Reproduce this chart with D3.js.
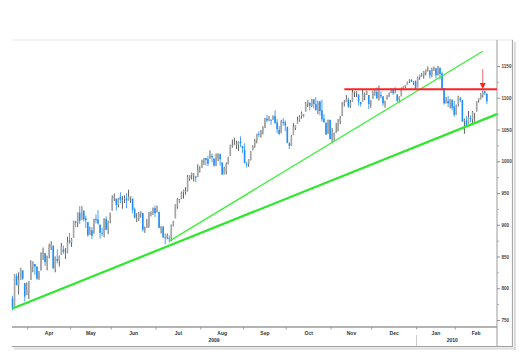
<!DOCTYPE html>
<html>
<head>
<meta charset="utf-8">
<script src="https://cdn.jsdelivr.net/npm/d3@7"></script>
<style>
  body { margin: 0; background: #fff; }
  svg { display: block; }
  text { font-family: "Liberation Sans", Arial, sans-serif; }
</style>
</head>
<body>
<div id="chart"></div>
<script>
// daily bars, Mar 20 2009 .. Feb 23 2010
const dates = [
  "2009-03-20","2009-03-23","2009-03-24","2009-03-25","2009-03-26","2009-03-27","2009-03-30","2009-03-31",
  "2009-04-01","2009-04-02","2009-04-03","2009-04-06","2009-04-07","2009-04-08","2009-04-09","2009-04-13","2009-04-14","2009-04-15","2009-04-16","2009-04-17","2009-04-20","2009-04-21","2009-04-22","2009-04-23","2009-04-24","2009-04-27","2009-04-28","2009-04-29","2009-04-30",
  "2009-05-01","2009-05-04","2009-05-05","2009-05-06","2009-05-07","2009-05-08","2009-05-11","2009-05-12","2009-05-13","2009-05-14","2009-05-15","2009-05-18","2009-05-19","2009-05-20","2009-05-21","2009-05-22","2009-05-26","2009-05-27","2009-05-28","2009-05-29",
  "2009-06-01","2009-06-02","2009-06-03","2009-06-04","2009-06-05","2009-06-08","2009-06-09","2009-06-10","2009-06-11","2009-06-12","2009-06-15","2009-06-16","2009-06-17","2009-06-18","2009-06-19","2009-06-22","2009-06-23","2009-06-24","2009-06-25","2009-06-26","2009-06-29","2009-06-30",
  "2009-07-01","2009-07-02","2009-07-06","2009-07-07","2009-07-08","2009-07-09","2009-07-10","2009-07-13","2009-07-14","2009-07-15","2009-07-16","2009-07-17","2009-07-20","2009-07-21","2009-07-22","2009-07-23","2009-07-24","2009-07-27","2009-07-28","2009-07-29","2009-07-30","2009-07-31",
  "2009-08-03","2009-08-04","2009-08-05","2009-08-06","2009-08-07","2009-08-10","2009-08-11","2009-08-12","2009-08-13","2009-08-14","2009-08-17","2009-08-18","2009-08-19","2009-08-20","2009-08-21","2009-08-24","2009-08-25","2009-08-26","2009-08-27","2009-08-28","2009-08-31",
  "2009-09-01","2009-09-02","2009-09-03","2009-09-04","2009-09-08","2009-09-09","2009-09-10","2009-09-11","2009-09-14","2009-09-15","2009-09-16","2009-09-17","2009-09-18","2009-09-21","2009-09-22","2009-09-23","2009-09-24","2009-09-25","2009-09-28","2009-09-29","2009-09-30",
  "2009-10-01","2009-10-02","2009-10-05","2009-10-06","2009-10-07","2009-10-08","2009-10-09","2009-10-12","2009-10-13","2009-10-14","2009-10-15","2009-10-16","2009-10-19","2009-10-20","2009-10-21","2009-10-22","2009-10-23","2009-10-26","2009-10-27","2009-10-28","2009-10-29","2009-10-30",
  "2009-11-02","2009-11-03","2009-11-04","2009-11-05","2009-11-06","2009-11-09","2009-11-10","2009-11-11","2009-11-12","2009-11-13","2009-11-16","2009-11-17","2009-11-18","2009-11-19","2009-11-20","2009-11-23","2009-11-24","2009-11-25","2009-11-27","2009-11-30",
  "2009-12-01","2009-12-02","2009-12-03","2009-12-04","2009-12-07","2009-12-08","2009-12-09","2009-12-10","2009-12-11","2009-12-14","2009-12-15","2009-12-16","2009-12-17","2009-12-18","2009-12-21","2009-12-22","2009-12-23","2009-12-24","2009-12-28","2009-12-29","2009-12-30","2009-12-31",
  "2010-01-04","2010-01-05","2010-01-06","2010-01-07","2010-01-08","2010-01-11","2010-01-12","2010-01-13","2010-01-14","2010-01-15","2010-01-19","2010-01-20","2010-01-21","2010-01-22","2010-01-25","2010-01-26","2010-01-27","2010-01-28","2010-01-29",
  "2010-02-01","2010-02-02","2010-02-03","2010-02-04","2010-02-05","2010-02-08","2010-02-09","2010-02-10","2010-02-11","2010-02-12","2010-02-16","2010-02-17","2010-02-18","2010-02-19","2010-02-22","2010-02-23"
];

const open = [
  785,772,820,806,814,829,809,790,
  794,814,835,839,835,816,829,855,856,840,854,865,868,831,847,844,853,862,854,856,876,
  873,880,906,904,920,909,923,911,905,885,892,887,910,909,901,888,887,910,893,908,
  923,943,942,932,945,938,941,942,939,943,942,925,911,910,920,919,894,897,899,918,920,927,
  921,921,894,898,881,882,880,880,900,911,930,941,942,952,953,954,973,979,979,977,976,987,
  990,1002,1006,1004,1005,1009,1005,994,1006,1012,999,981,986,996,1010,1026,1027,1027,1027,1032,1025,
  1019,996,997,1003,1019,1025,1033,1044,1040,1049,1053,1068,1067,1066,1066,1072,1062,1050,1045,1063,1062,
  1055,1029,1026,1042,1053,1060,1065,1072,1074,1079,1091,1093,1088,1098,1091,1080,1095,1081,1068,1061,1044,1066,
  1036,1040,1047,1048,1064,1072,1092,1094,1098,1088,1094,1109,1109,1106,1094,1095,1106,1106,1105,1092,
  1099,1109,1110,1101,1105,1103,1092,1098,1104,1108,1114,1109,1106,1097,1103,1115,1118,1121,1127,1129,1125,1127,
  1117,1133,1136,1136,1140,1146,1144,1137,1146,1147,1136,1148,1139,1116,1092,1096,1092,1097,1087,
  1074,1091,1100,1097,1064,1065,1060,1069,1067,1075,1079,1097,1099,1105,1111,1107
];

const high = [
  789,823,824,826,833,829,809,810,
  812,845,843,839,835,828,857,865,856,852,871,875,868,851,862,852,872,868,864,882,888,
  880,907,907,920,930,930,923,915,905,898,897,910,917,924,901,896,911,914,907,920,
  947,950,942,943,952,946,947,950,956,946,942,928,919,921,922,919,898,910,921,922,928,931,
  931,921,898,898,887,887,884,901,907,933,943,941,953,956,960,979,979,983,982,977,996,993,
  1003,1006,1006,1009,1018,1013,1005,1013,1013,1013,999,992,999,1008,1027,1035,1038,1033,1032,1040,1025,
  1029,1000,1004,1017,1026,1036,1044,1048,1050,1056,1069,1074,1072,1067,1073,1081,1067,1056,1066,1069,1065,
  1055,1031,1042,1061,1058,1071,1073,1079,1075,1094,1097,1093,1099,1099,1102,1096,1096,1098,1075,1063,1066,1066,
  1053,1046,1061,1067,1072,1094,1097,1105,1101,1097,1114,1111,1111,1106,1094,1113,1109,1112,1105,1097,
  1112,1115,1117,1120,1111,1103,1096,1105,1109,1115,1115,1117,1106,1103,1117,1119,1121,1126,1130,1130,1127,1128,
  1134,1137,1140,1143,1145,1150,1144,1148,1150,1148,1151,1148,1142,1116,1102,1104,1099,1099,1096,
  1090,1104,1102,1097,1068,1072,1080,1073,1080,1077,1095,1100,1108,1112,1112,1108
];

const low = [
  766,772,805,791,814,814,780,790,
  784,814,826,822,814,814,829,845,836,829,848,861,832,826,840,835,853,855,847,856,871,
  866,880,897,897,902,909,906,896,882,885,878,887,903,901,879,883,881,892,886,903,
  923,938,923,928,935,926,935,927,939,935,919,911,905,907,912,890,888,896,896,914,916,913,
  920,896,887,880,870,878,873,875,898,911,926,935,941,942,948,953,970,972,969,968,976,983,
  990,995,994,993,1005,999,992,993,1001,994,979,980,980,996,1009,1022,1026,1020,1017,1023,1014,
  997,991,992,1002,1018,1022,1029,1039,1038,1043,1053,1062,1064,1058,1066,1060,1045,1042,1045,1057,1048,
  1029,1020,1025,1042,1050,1060,1063,1068,1070,1079,1086,1081,1086,1084,1081,1075,1073,1063,1061,1042,1044,1035,
  1029,1033,1045,1048,1059,1072,1087,1094,1085,1085,1094,1102,1102,1089,1087,1095,1097,1105,1083,1085,
  1099,1104,1099,1096,1100,1088,1085,1098,1102,1108,1105,1108,1094,1093,1103,1113,1116,1121,1124,1126,1121,1115,
  1117,1129,1134,1131,1136,1142,1131,1133,1143,1131,1136,1130,1114,1090,1092,1086,1084,1081,1071,
  1074,1087,1094,1063,1044,1056,1060,1062,1061,1063,1079,1093,1098,1101,1105,1091
];

const close = [
  769,823,806,814,833,816,788,798,
  811,834,843,835,816,825,857,859,842,852,865,870,832,850,844,852,866,858,855,874,873,
  878,907,904,920,907,929,909,908,884,893,883,910,908,903,888,887,910,893,907,919,
  943,945,932,942,940,939,942,939,945,946,924,912,911,918,921,893,895,901,920,919,927,919,
  923,896,899,881,880,883,879,901,906,933,941,940,951,955,954,976,979,982,980,975,987,987,
  1003,1006,1003,997,1010,1007,994,1006,1013,1004,980,990,996,1007,1026,1026,1028,1028,1031,1029,1021,
  998,995,1003,1016,1025,1033,1044,1043,1049,1053,1069,1065,1068,1065,1072,1061,1051,1044,1063,1061,1057,
  1030,1025,1040,1055,1058,1065,1071,1076,1073,1092,1097,1088,1098,1091,1081,1093,1080,1067,1063,1043,1066,1036,
  1043,1045,1047,1067,1069,1093,1093,1099,1087,1093,1109,1110,1110,1095,1091,1106,1106,1111,1091,1096,
  1109,1109,1100,1106,1103,1092,1096,1102,1106,1114,1108,1109,1096,1102,1114,1118,1121,1126,1128,1126,1126,1115,
  1133,1137,1137,1142,1145,1147,1136,1146,1148,1136,1150,1138,1116,1092,1097,1092,1098,1085,1074,
  1089,1103,1097,1063,1066,1057,1071,1068,1078,1076,1095,1100,1107,1109,1108,1095
];

const yTicks = [750, 800, 850, 900, 950, 1000, 1050, 1100, 1150];
const yMinorTicks = [775, 825, 875, 925, 975, 1025, 1075, 1125];
const monthLabels = ["Apr", "May", "Jun", "Jul", "Aug", "Sep", "Oct", "Nov", "Dec", "Jan", "Feb"];
const yearLabels = ["2009", "2010"];

// drawn lines, as [bar index, price]
const lowerTrend = [[0, 769], [238, 1075]];
const upperTrend = [[77, 875], [231, 1174]];
const resistance = [[163, 1114], [238, 1114]];
const arrowAt = [231, 1113];

const W = 520, H = 353;
const plotLeft = 12, plotRight = 497, plotTop = 40, plotBottom = 327;

const svg = d3.select("#chart").append("svg")
    .attr("width", W)
    .attr("height", H);

const x = d3.scaleLinear().domain([-0.5, 238]).range([11.5, plotRight]);
const y = d3.scaleLinear().domain([739.8, 1191.7]).range([plotBottom, plotTop]);

const bars = dates.map((d, i) => ({
    i: i, date: d3.timeParse("%Y-%m-%d")(d),
    o: open[i], h: high[i], l: low[i], c: close[i]
}));

// frame
svg.append("line").attr("x1", plotLeft).attr("x2", 513).attr("y1", plotTop).attr("y2", plotTop)
    .attr("stroke", "#e6e6e6").attr("stroke-width", 1);
svg.append("line").attr("x1", 515).attr("x2", 515).attr("y1", plotTop + 2).attr("y2", 350)
    .attr("stroke", "#dcdcdc").attr("stroke-width", 2);
svg.append("line").attr("x1", 14).attr("x2", 515).attr("y1", 348.5).attr("y2", 348.5)
    .attr("stroke", "#dcdcdc").attr("stroke-width", 2);
svg.append("line").attr("x1", 512.5).attr("x2", 512.5).attr("y1", plotTop).attr("y2", 347)
    .attr("stroke", "#a8a8a8").attr("stroke-width", 1.2);
svg.append("line").attr("x1", plotLeft).attr("x2", 513).attr("y1", 346.5).attr("y2", 346.5)
    .attr("stroke", "#a0a0a0").attr("stroke-width", 1.2);
svg.append("line").attr("x1", plotRight).attr("x2", plotRight).attr("y1", plotTop).attr("y2", 346)
    .attr("stroke", "#9a9a9a").attr("stroke-width", 1);
svg.append("line").attr("x1", plotLeft).attr("x2", plotRight).attr("y1", plotBottom).attr("y2", plotBottom)
    .attr("stroke", "#9a9a9a").attr("stroke-width", 1.3);

// right price axis
const yAxis = svg.append("g").attr("transform", `translate(${plotRight},0)`);
yAxis.selectAll(".major").data(yTicks).enter().append("line")
    .attr("x1", 0).attr("x2", 3).attr("y1", d => y(d)).attr("y2", d => y(d))
    .attr("stroke", "#777").attr("stroke-width", 0.8);
yAxis.selectAll(".minor").data(yMinorTicks).enter().append("line")
    .attr("x1", 0).attr("x2", 2).attr("y1", d => y(d)).attr("y2", d => y(d))
    .attr("stroke", "#999").attr("stroke-width", 0.8);
yAxis.selectAll("text").data(yTicks).enter().append("text")
    .attr("x", 4.5).attr("y", d => y(d)).attr("dy", "0.35em")
    .style("font-size", "4.6px").style("font-weight", "bold").style("fill", "#444")
    .text(d => d);

// month ticks and labels
const monthStarts = bars.filter((b, i) => i > 0 && b.date.getMonth() !== bars[i - 1].date.getMonth()).map(b => b.i);
const bounds = monthStarts.map(i => x(i - 0.5));
svg.selectAll(".mtick").data(bounds).enter().append("line")
    .attr("x1", d => d).attr("x2", d => d).attr("y1", plotBottom).attr("y2", plotBottom + 2.5)
    .attr("stroke", "#888").attr("stroke-width", 0.8);
svg.selectAll(".mlabel").data(monthLabels).enter().append("text")
    .attr("x", (d, k) => (bounds[k] + (k + 1 < bounds.length ? bounds[k + 1] : plotRight)) / 2)
    .attr("y", 334.5)
    .attr("text-anchor", "middle")
    .style("font-size", "5px").style("font-weight", "bold").style("fill", "#333")
    .text(d => d);

// year row
const yearSplit = bars.find(b => b.date.getFullYear() === 2010).i;
svg.append("line").attr("x1", x(yearSplit - 0.5)).attr("x2", x(yearSplit - 0.5))
    .attr("y1", 335).attr("y2", 346).attr("stroke", "#bbb").attr("stroke-width", 0.8);
const yearSpans = [[-0.5, yearSplit - 0.5], [yearSplit - 0.5, bars.length - 0.5]];
svg.selectAll(".ylabel").data(yearLabels).enter().append("text")
    .attr("x", (d, k) => (x(yearSpans[k][0]) + x(yearSpans[k][1])) / 2)
    .attr("y", 341.5)
    .attr("text-anchor", "middle")
    .style("font-size", "5px").style("font-weight", "bold").style("fill", "#333")
    .text(d => d);

// candles
const candles = svg.append("g");
candles.selectAll(".wick").data(bars).enter().append("line")
    .attr("x1", d => x(d.i)).attr("x2", d => x(d.i))
    .attr("y1", d => y(d.h)).attr("y2", d => y(d.l))
    .attr("stroke", d => d.c < d.o ? "#1e8cf5" : "#3a3a3a")
    .attr("stroke-width", 0.8);
candles.selectAll(".body").data(bars).enter().append("rect")
    .attr("x", d => x(d.i) - 0.8)
    .attr("width", 1.6)
    .attr("y", d => y(Math.max(d.o, d.c)))
    .attr("height", d => Math.max(0.8, Math.abs(y(d.o) - y(d.c))))
    .attr("fill", d => d.c < d.o ? "#1e8cf5" : "#a8a8a8")
    .attr("fill-opacity", 0.95);

// trend lines
const line = d3.line().x(d => x(d[0])).y(d => y(d[1]));
svg.append("path").attr("d", line(lowerTrend))
    .attr("fill", "none").attr("stroke", "#2ee82e").attr("stroke-width", 2.2);
svg.append("path").attr("d", line(upperTrend))
    .attr("fill", "none").attr("stroke", "#3ef03e").attr("stroke-width", 1.4);
svg.append("path").attr("d", line(resistance))
    .attr("fill", "none").attr("stroke", "#ff2222").attr("stroke-width", 2);

// arrow
const ax = x(arrowAt[0]), ay = y(arrowAt[1]);
svg.append("line").attr("x1", ax).attr("x2", ax).attr("y1", ay - 21).attr("y2", ay - 6)
    .attr("stroke", "#f25a5a").attr("stroke-width", 0.9);
svg.append("path")
    .attr("d", `M${ax - 3},${ay - 7} L${ax + 3},${ay - 7} L${ax},${ay - 1} Z`)
    .attr("fill", "#ff2020");
</script>
</body>
</html>
